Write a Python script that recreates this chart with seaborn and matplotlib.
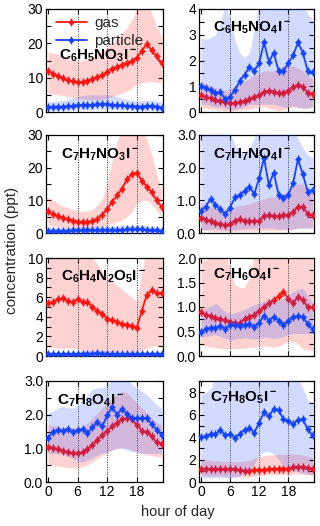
import numpy as np
import matplotlib
matplotlib.use('Agg')
import matplotlib.pyplot as plt
import seaborn as sns
from matplotlib.lines import Line2D
from matplotlib.legend_handler import HandlerTuple
from matplotlib.ticker import MultipleLocator, AutoMinorLocator, FormatStrFormatter

hours = list(range(24))

# C6H5NO3I-
c6h5no3_gas = [12.0, 11.2, 10.4, 9.8, 9.3, 8.9, 8.6, 8.7, 9.1, 9.6, 10.1, 10.8, 11.6, 12.6, 13.2, 13.8, 14.3, 14.8, 15.8, 17.8, 19.8, 18.0, 16.2, 14.3]
c6h5no3_gas_lo = [5.5, 5.2, 5.0, 4.8, 4.5, 4.2, 4.0, 3.8, 3.6, 3.5, 3.6, 3.8, 4.0, 4.5, 5.0, 5.5, 6.0, 7.0, 8.0, 8.5, 8.8, 8.8, 8.6, 8.5]
c6h5no3_gas_hi = [17.5, 17.2, 16.8, 16.2, 15.5, 15.0, 14.8, 15.0, 15.5, 16.2, 17.0, 18.0, 18.8, 20.0, 21.5, 23.0, 24.5, 27.0, 30.0, 32.0, 32.0, 29.0, 25.0, 22.0]
c6h5no3_part = [1.4, 1.5, 1.6, 1.6, 1.7, 1.8, 1.9, 2.0, 2.0, 2.1, 2.2, 2.4, 2.3, 2.1, 2.0, 1.9, 1.8, 1.7, 1.6, 1.6, 1.8, 1.8, 1.6, 1.3]
c6h5no3_part_lo = [0.5, 0.5, 0.5, 0.6, 0.6, 0.6, 0.7, 0.7, 0.7, 0.8, 0.8, 0.8, 0.8, 0.8, 0.7, 0.7, 0.7, 0.6, 0.6, 0.6, 0.6, 0.6, 0.5, 0.5]
c6h5no3_part_hi = [3.0, 3.0, 3.2, 3.4, 3.6, 4.0, 4.4, 4.8, 5.0, 5.0, 5.0, 5.0, 5.0, 4.8, 4.5, 4.0, 3.6, 3.4, 3.2, 3.2, 3.4, 3.4, 3.2, 3.0]

# C6H5NO4I-
c6h5no4_gas = [0.66, 0.57, 0.53, 0.47, 0.43, 0.40, 0.36, 0.34, 0.39, 0.44, 0.49, 0.57, 0.66, 0.79, 0.83, 0.79, 0.75, 0.75, 0.83, 0.96, 1.05, 0.96, 0.75, 0.70]
c6h5no4_gas_lo = [0.2, 0.15, 0.12, 0.1, 0.08, 0.05, 0.05, 0.05, 0.08, 0.1, 0.12, 0.15, 0.2, 0.2, 0.15, 0.1, 0.05, 0.1, 0.15, 0.2, 0.15, 0.15, 0.15, 0.2]
c6h5no4_gas_hi = [1.2, 1.1, 1.0, 0.95, 0.9, 0.85, 0.9, 1.0, 1.1, 1.2, 1.3, 1.4, 1.5, 1.6, 1.6, 1.6, 1.7, 1.8, 1.8, 1.8, 1.7, 1.6, 1.4, 1.3]
c6h5no4_part = [1.0, 0.95, 0.85, 0.72, 0.78, 0.5, 0.6, 0.85, 1.2, 1.45, 1.75, 1.6, 1.9, 2.7, 1.95, 2.3, 1.6, 1.6, 1.9, 2.2, 2.7, 2.3, 1.6, 1.55]
c6h5no4_part_lo = [0.3, 0.3, 0.25, 0.2, 0.2, 0.15, 0.1, 0.1, 0.15, 0.2, 0.3, 0.3, 0.3, 0.3, 0.3, 0.3, 0.25, 0.2, 0.2, 0.25, 0.2, 0.15, 0.15, 0.2]
c6h5no4_part_hi = [2.9, 2.8, 2.9, 3.0, 3.4, 4.2, 3.6, 2.8, 2.3, 2.1, 2.3, 3.2, 4.2, 4.5, 4.5, 4.5, 4.5, 4.3, 4.1, 4.3, 4.5, 4.2, 3.8, 3.6]

# C7H7NO3I-
c7h7no3_gas = [6.6, 5.8, 5.2, 4.7, 4.2, 3.8, 3.5, 3.4, 3.4, 3.6, 4.4, 5.6, 7.4, 9.6, 11.5, 13.5, 16.5, 18.0, 18.5, 16.0, 14.2, 12.5, 10.0, 8.0]
c7h7no3_gas_lo = [2.5, 2.2, 2.0, 1.8, 1.6, 1.5, 1.4, 1.4, 1.4, 1.5, 1.8, 2.0, 2.5, 3.0, 3.5, 4.0, 5.0, 6.5, 9.0, 10.0, 10.0, 9.0, 7.0, 5.0]
c7h7no3_gas_hi = [11.0, 10.0, 9.0, 8.2, 7.8, 7.2, 6.8, 6.6, 6.8, 7.2, 8.5, 10.5, 15.0, 22.0, 28.0, 32.0, 34.0, 35.0, 35.0, 33.0, 29.0, 24.0, 18.0, 13.0]
c7h7no3_part = [0.7, 0.7, 0.7, 0.7, 0.7, 0.8, 0.8, 0.8, 0.9, 0.9, 1.0, 1.0, 1.0, 1.0, 1.0, 1.0, 1.1, 1.1, 1.2, 1.1, 1.0, 0.9, 0.8, 0.7]
c7h7no3_part_lo = [0.2, 0.2, 0.2, 0.2, 0.2, 0.25, 0.25, 0.25, 0.3, 0.3, 0.3, 0.3, 0.3, 0.3, 0.3, 0.3, 0.35, 0.35, 0.4, 0.35, 0.3, 0.3, 0.25, 0.2]
c7h7no3_part_hi = [1.6, 1.6, 1.6, 1.6, 1.7, 1.8, 1.8, 1.9, 2.0, 2.0, 2.1, 2.2, 2.2, 2.2, 2.2, 2.2, 2.3, 2.3, 2.4, 2.3, 2.2, 2.0, 1.8, 1.6]

# C7H7NO4I-
c7h7no4_gas = [0.46, 0.41, 0.36, 0.31, 0.28, 0.25, 0.27, 0.38, 0.44, 0.36, 0.36, 0.36, 0.38, 0.51, 0.54, 0.51, 0.51, 0.54, 0.56, 0.64, 0.81, 0.81, 0.58, 0.54]
c7h7no4_gas_lo = [0.1, 0.08, 0.06, 0.05, 0.05, 0.04, 0.04, 0.05, 0.06, 0.06, 0.06, 0.06, 0.07, 0.08, 0.08, 0.08, 0.08, 0.08, 0.1, 0.1, 0.15, 0.15, 0.15, 0.15]
c7h7no4_gas_hi = [0.9, 0.85, 0.8, 0.75, 0.7, 0.7, 0.75, 0.8, 0.85, 0.85, 0.9, 0.95, 1.0, 1.05, 1.1, 1.1, 1.15, 1.2, 1.3, 1.4, 1.5, 1.5, 1.3, 1.2]
c7h7no4_part = [0.68, 0.81, 1.05, 0.86, 0.73, 0.58, 0.78, 1.09, 1.17, 1.29, 1.42, 1.19, 1.68, 2.29, 1.47, 1.85, 1.17, 1.07, 1.17, 1.53, 2.26, 1.8, 1.27, 1.32]
c7h7no4_part_lo = [0.1, 0.1, 0.12, 0.12, 0.1, 0.08, 0.08, 0.1, 0.12, 0.12, 0.15, 0.15, 0.15, 0.15, 0.15, 0.15, 0.12, 0.12, 0.12, 0.12, 0.15, 0.15, 0.15, 0.15]
c7h7no4_part_hi = [3.1, 3.1, 3.2, 3.3, 3.4, 3.3, 3.1, 2.7, 2.5, 2.5, 2.6, 2.9, 3.5, 3.6, 3.6, 3.5, 3.4, 3.3, 3.2, 3.1, 2.9, 2.6, 2.4, 2.3]

# C6H4N2O5I-
c6h4n2o5_gas = [5.4, 5.5, 5.8, 5.9, 5.6, 5.5, 5.8, 5.5, 5.5, 5.0, 4.6, 4.3, 3.8, 3.7, 3.5, 3.3, 3.2, 3.1, 2.9, 4.6, 6.2, 6.7, 6.4, 6.4]
c6h4n2o5_gas_lo = [1.0, 0.9, 0.8, 0.8, 0.8, 0.8, 0.7, 0.6, 0.5, 0.5, 0.4, 0.4, 0.4, 0.4, 0.4, 0.4, 0.4, 0.4, 0.4, 0.6, 0.8, 1.0, 1.0, 1.0]
c6h4n2o5_gas_hi = [11.0, 11.0, 11.0, 11.0, 11.0, 11.0, 11.0, 11.0, 10.5, 10.0, 9.4, 8.6, 8.0, 7.6, 7.2, 6.8, 6.4, 6.0, 5.6, 8.5, 11.0, 11.0, 11.0, 11.0]
c6h4n2o5_part = [0.2, 0.2, 0.2, 0.2, 0.2, 0.2, 0.2, 0.25, 0.25, 0.25, 0.3, 0.25, 0.25, 0.2, 0.2, 0.2, 0.2, 0.2, 0.2, 0.2, 0.2, 0.2, 0.2, 0.2]
c6h4n2o5_part_lo = [0.05, 0.05, 0.05, 0.05, 0.05, 0.05, 0.05, 0.05, 0.05, 0.05, 0.05, 0.05, 0.05, 0.05, 0.05, 0.05, 0.05, 0.05, 0.05, 0.05, 0.05, 0.05, 0.05, 0.05]
c6h4n2o5_part_hi = [0.45, 0.45, 0.45, 0.45, 0.45, 0.45, 0.5, 0.55, 0.55, 0.55, 0.6, 0.55, 0.55, 0.5, 0.5, 0.45, 0.45, 0.45, 0.45, 0.45, 0.45, 0.45, 0.45, 0.45]

# C7H6O4I-
c7h6o4_gas = [0.89, 0.84, 0.81, 0.78, 0.76, 0.73, 0.70, 0.68, 0.67, 0.76, 0.80, 0.84, 0.92, 1.0, 1.08, 1.14, 1.22, 1.31, 1.17, 1.08, 1.21, 1.14, 1.0, 0.99]
c7h6o4_gas_lo = [0.22, 0.2, 0.18, 0.17, 0.15, 0.15, 0.15, 0.15, 0.15, 0.16, 0.17, 0.18, 0.2, 0.2, 0.2, 0.18, 0.2, 0.25, 0.3, 0.3, 0.25, 0.15, 0.12, 0.12]
c7h6o4_gas_hi = [1.95, 1.95, 2.1, 2.2, 2.2, 2.1, 1.8, 1.45, 1.4, 1.4, 1.6, 2.1, 2.2, 2.2, 2.2, 2.2, 2.2, 2.2, 2.2, 2.2, 2.2, 2.2, 2.2, 2.2]
c7h6o4_part = [0.50, 0.55, 0.58, 0.58, 0.62, 0.55, 0.63, 0.63, 0.62, 0.63, 0.65, 0.60, 0.68, 0.82, 0.72, 0.80, 0.72, 0.63, 0.72, 0.80, 0.82, 0.80, 0.65, 0.55]
c7h6o4_part_lo = [0.37, 0.4, 0.42, 0.43, 0.4, 0.36, 0.33, 0.34, 0.36, 0.37, 0.36, 0.35, 0.36, 0.38, 0.38, 0.36, 0.37, 0.40, 0.44, 0.46, 0.46, 0.46, 0.46, 0.45]
c7h6o4_part_hi = [0.93, 0.98, 1.02, 1.07, 1.0, 0.9, 0.86, 0.88, 0.92, 0.95, 1.0, 1.05, 1.08, 1.12, 1.17, 1.14, 1.12, 1.18, 1.25, 1.31, 1.36, 1.38, 1.25, 1.07]

# C7H8O4I-
c7h8o4_gas = [1.05, 1.02, 0.98, 0.93, 0.88, 0.85, 0.85, 0.88, 0.98, 1.1, 1.25, 1.4, 1.52, 1.65, 1.76, 1.86, 1.89, 1.86, 1.7, 1.52, 1.48, 1.36, 1.18, 1.14]
c7h8o4_gas_lo = [0.55, 0.5, 0.47, 0.45, 0.43, 0.42, 0.42, 0.45, 0.5, 0.6, 0.7, 0.8, 0.88, 0.95, 1.0, 1.02, 1.0, 0.95, 0.9, 0.85, 0.8, 0.78, 0.76, 0.75]
c7h8o4_gas_hi = [1.7, 1.68, 1.65, 1.62, 1.6, 1.58, 1.6, 1.65, 1.75, 1.9, 2.05, 2.2, 2.35, 2.5, 2.6, 2.7, 2.65, 2.5, 2.35, 2.2, 2.05, 1.9, 1.78, 1.7]
c7h8o4_part = [1.3, 1.5, 1.55, 1.52, 1.58, 1.48, 1.55, 1.56, 1.45, 1.62, 1.78, 1.65, 1.98, 2.22, 2.0, 2.18, 2.02, 1.9, 1.9, 1.9, 1.9, 1.72, 1.55, 1.4]
c7h8o4_part_lo = [0.85, 0.85, 0.85, 0.82, 0.78, 0.7, 0.62, 0.6, 0.65, 0.72, 0.8, 0.85, 0.88, 0.95, 1.0, 1.0, 0.95, 0.9, 0.88, 0.85, 0.85, 0.85, 0.85, 0.85]
c7h8o4_part_hi = [2.05, 2.1, 2.2, 2.25, 2.2, 2.2, 2.25, 2.4, 2.6, 2.75, 2.8, 2.8, 2.85, 3.1, 3.2, 3.2, 3.1, 2.9, 2.8, 2.7, 2.6, 2.45, 2.3, 2.2]

# C7H8O5I-
c7h8o5_gas = [1.15, 1.15, 1.15, 1.15, 1.15, 1.12, 1.12, 1.12, 1.05, 1.0, 1.0, 1.05, 1.1, 1.1, 1.15, 1.18, 1.2, 1.2, 1.2, 1.35, 1.35, 1.38, 1.25, 1.2]
c7h8o5_gas_lo = [0.55, 0.55, 0.55, 0.55, 0.55, 0.5, 0.5, 0.5, 0.45, 0.45, 0.45, 0.5, 0.55, 0.6, 0.65, 0.65, 0.65, 0.65, 0.65, 0.7, 0.7, 0.7, 0.65, 0.6]
c7h8o5_gas_hi = [2.05, 2.0, 1.95, 1.9, 1.88, 1.85, 1.82, 1.8, 1.82, 1.85, 1.95, 2.1, 2.25, 2.35, 2.4, 2.42, 2.45, 2.45, 2.5, 2.5, 2.5, 2.4, 2.3, 2.2]
c7h8o5_part = [4.0, 4.1, 4.3, 4.25, 4.65, 4.15, 4.25, 3.95, 4.3, 4.65, 4.8, 4.4, 5.3, 6.2, 5.85, 6.5, 6.4, 5.6, 5.45, 5.15, 5.55, 5.6, 4.7, 4.15]
c7h8o5_part_lo = [0.4, 0.4, 0.4, 0.4, 0.4, 0.4, 0.4, 0.4, 0.5, 0.7, 1.0, 1.6, 2.4, 2.7, 2.7, 2.5, 2.0, 1.5, 1.2, 1.0, 0.9, 0.8, 0.7, 0.6]
c7h8o5_part_hi = [7.9, 8.0, 8.3, 9.2, 9.5, 9.5, 9.5, 9.4, 9.5, 9.6, 9.5, 9.5, 9.5, 9.6, 9.6, 9.6, 9.5, 9.5, 9.4, 9.3, 9.2, 8.4, 7.3, 7.0]

labels = [r'$\mathbf{C_6H_5NO_3I^-}$', r'$\mathbf{C_6H_5NO_4I^-}$',
          r'$\mathbf{C_7H_7NO_3I^-}$', r'$\mathbf{C_7H_7NO_4I^-}$',
          r'$\mathbf{C_6H_4N_2O_5I^-}$', r'$\mathbf{C_7H_6O_4I^-}$',
          r'$\mathbf{C_7H_8O_4I^-}$', r'$\mathbf{C_7H_8O_5I^-}$']

panels = [
    (c6h5no3_gas, c6h5no3_gas_lo, c6h5no3_gas_hi, c6h5no3_part, c6h5no3_part_lo, c6h5no3_part_hi),
    (c6h5no4_gas, c6h5no4_gas_lo, c6h5no4_gas_hi, c6h5no4_part, c6h5no4_part_lo, c6h5no4_part_hi),
    (c7h7no3_gas, c7h7no3_gas_lo, c7h7no3_gas_hi, c7h7no3_part, c7h7no3_part_lo, c7h7no3_part_hi),
    (c7h7no4_gas, c7h7no4_gas_lo, c7h7no4_gas_hi, c7h7no4_part, c7h7no4_part_lo, c7h7no4_part_hi),
    (c6h4n2o5_gas, c6h4n2o5_gas_lo, c6h4n2o5_gas_hi, c6h4n2o5_part, c6h4n2o5_part_lo, c6h4n2o5_part_hi),
    (c7h6o4_gas, c7h6o4_gas_lo, c7h6o4_gas_hi, c7h6o4_part, c7h6o4_part_lo, c7h6o4_part_hi),
    (c7h8o4_gas, c7h8o4_gas_lo, c7h8o4_gas_hi, c7h8o4_part, c7h8o4_part_lo, c7h8o4_part_hi),
    (c7h8o5_gas, c7h8o5_gas_lo, c7h8o5_gas_hi, c7h8o5_part, c7h8o5_part_lo, c7h8o5_part_hi),
]

ymax = [30, 4, 30, 3, 10, 2, 3, 9]
ystep = [10, 1, 10, 1, 2, 0.5, 1, 2]
yfmt = ['%d', '%d', '%d', '%.1f', '%d', '%.1f', '%.1f', '%d']
label_pos = [(0.11, 0.55), (0.12, 0.815), (0.125, 0.80), (0.12, 0.80),
             (0.13, 0.81), (0.12, 0.825), (0.09, 0.80), (0.095, 0.83)]

sns.set_style('ticks')
plt.rcParams['font.family'] = ['Liberation Sans', 'DejaVu Sans']
plt.rcParams['mathtext.fontset'] = 'custom'
plt.rcParams['mathtext.bf'] = 'Liberation Sans:bold'
plt.rcParams['mathtext.rm'] = 'Liberation Sans'

RED = '#ff1414'
BLUE = '#1444ff'

W, H = 320, 526
fig = plt.figure(figsize=(W / 100, H / 100), dpi=100)

cols = [(46, 117), (199, 115)]
rows = [(9, 112), (135, 233), (258, 356), (381, 482)]

for i, (g, glo, ghi, p, plo, phi) in enumerate(panels):
    r, c = divmod(i, 2)
    x0, w = cols[c]
    top, bot = rows[r]
    ax = fig.add_axes([x0 / W, 1 - bot / H, w / W, (bot - top) / H])

    ax.fill_between(hours, glo, ghi, color=RED, alpha=0.19, lw=0, zorder=1)
    sns.lineplot(x=hours, y=g, ax=ax, color=RED, lw=1.3, marker='D', markersize=3.4,
                 markeredgewidth=0, estimator=None, zorder=3)
    ax.plot(hours, g, ls='none', marker='|', ms=6, mew=1.0, color=RED, zorder=3)

    ax.fill_between(hours, plo, phi, color=BLUE, alpha=0.19, lw=0, zorder=4)
    sns.lineplot(x=hours, y=p, ax=ax, color=BLUE, lw=1.3, marker='D', markersize=3.4,
                 markeredgewidth=0, estimator=None, zorder=5)
    ax.plot(hours, p, ls='none', marker='|', ms=6, mew=1.0, color=BLUE, zorder=5)

    for h in (6, 12, 18):
        ax.axvline(h, color='#333333', ls=(0, (1, 1.5)), lw=0.7, zorder=2)

    ax.set_xlim(-0.4, 23.3)
    ax.set_ylim(0, ymax[i])
    ax.set_xticks([0, 6, 12, 18])
    ax.xaxis.set_minor_locator(plt.NullLocator())
    ax.yaxis.set_major_locator(MultipleLocator(ystep[i]))
    ax.yaxis.set_minor_locator(AutoMinorLocator(2))
    ax.yaxis.set_major_formatter(FormatStrFormatter(yfmt[i]))
    ax.tick_params(which='both', direction='in', top=True, right=True,
                   length=3.5, width=0.8, labelsize=10, pad=2, colors='black')
    if r < 3:
        ax.tick_params(labelbottom=False)
    ax.set_xlabel('')
    ax.set_ylabel('')
    for s in ax.spines.values():
        s.set_linewidth(0.9)
        s.set_color('black')

    ax.text(label_pos[i][0], label_pos[i][1], labels[i], transform=ax.transAxes,
            fontsize=11, va='center', ha='left', color='black', zorder=6)

    if i == 0:
        h_gas = (Line2D([], [], color=RED, lw=1.3, marker='D', ms=3.4, mew=0),
                 Line2D([], [], color=RED, ls='none', marker='|', ms=6, mew=1.0))
        h_part = (Line2D([], [], color=BLUE, lw=1.3, marker='D', ms=3.4, mew=0),
                  Line2D([], [], color=BLUE, ls='none', marker='|', ms=6, mew=1.0))
        ax.legend([h_gas, h_part], ['gas', 'particle'], loc='upper left',
                  bbox_to_anchor=(0.06, 0.96), frameon=False, fontsize=11,
                  handlelength=2.0, handletextpad=0.5, labelspacing=0.25,
                  borderpad=0.2, borderaxespad=0, numpoints=1,
                  handler_map={tuple: HandlerTuple(ndivide=1)})

fig.text(12 / W, 1 - 250 / H, 'concentration (ppt)', rotation=90, ha='center',
         va='center', fontsize=11)
fig.text(178 / W, 1 - 512 / H, 'hour of day', ha='center', va='center', fontsize=10.5)

fig.savefig('out.png', dpi=100)
